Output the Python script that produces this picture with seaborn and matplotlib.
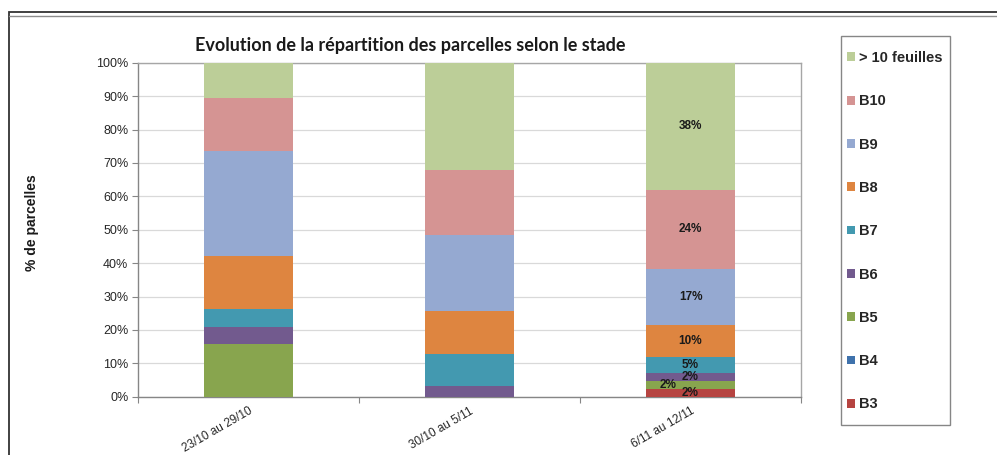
import numpy as np
import pandas as pd
import matplotlib
matplotlib.use("Agg")
import matplotlib.pyplot as plt
from matplotlib.patches import Patch, Rectangle
from matplotlib.colors import to_rgba
import seaborn as sns

periodes = ["23/10 au 29/10", "30/10 au 5/11", "6/11 au 12/11"]
stades = ["> 10 feuilles", "B10", "B9", "B8", "B7", "B6", "B5", "B4", "B3"]

# % de parcelles par stade, une valeur par periode
gt10 = [10.5, 32.2, 38.0]
b10 = [15.8, 19.4, 23.8]
b9 = [31.6, 22.6, 16.7]
b8 = [15.8, 12.9, 9.6]
b7 = [5.3, 9.7, 4.8]
b6 = [5.3, 3.2, 2.4]
b5 = [15.7, 0.0, 2.4]
b4 = [0.0, 0.0, 0.0]
b3 = [0.0, 0.0, 2.3]

couleurs = ["#BCCE98", "#D59493", "#95A9D1", "#DE8540", "#4399B0",
            "#725A8E", "#88A54E", "#3F72AC", "#B64441"]

series = [gt10, b10, b9, b8, b7, b6, b5, b4, b3]
rows = []
for stade, vals in zip(stades, series):
    for i, v in enumerate(vals):
        rows.append({"periode": i, "stade": stade, "pct": v})
df = pd.DataFrame(rows)
palette = dict(zip(stades, couleurs))

sns.set_style("white")
plt.rcParams["font.family"] = ["Liberation Sans", "DejaVu Sans"]

fig = plt.figure(figsize=(9.97, 4.55), dpi=100)
ax = fig.add_axes([138 / 997, 1 - 396.7 / 455, 663 / 997, 334 / 455])

sns.histplot(data=df, x="periode", weights="pct", hue="stade", hue_order=stades,
             palette=palette, multiple="stack", discrete=True, shrink=0.4,
             alpha=1, linewidth=0, legend=False, ax=ax, zorder=3)

ax.set_xlim(-0.5, 2.5)
ax.set_ylim(0, 100)
ax.set_yticks(np.arange(0, 101, 10))
ax.set_yticklabels([f"{t}%" for t in range(0, 101, 10)], fontsize=9, color="#262626")
ax.yaxis.grid(True, color="#D9D9D9", linewidth=0.9, zorder=0)
ax.set_axisbelow(True)
ax.tick_params(axis="y", length=4, width=0.8, color="#868686", pad=3, left=True)

ax.set_xticks(range(len(periodes)))
ax.set_xticklabels(periodes, fontsize=8.5, color="#262626", rotation=30,
                   ha="right", va="top", rotation_mode="anchor")
ax.tick_params(axis="x", which="major", length=0, pad=6)
ax.set_xticks([-0.5, 0.5, 1.5, 2.5], minor=True)
ax.tick_params(axis="x", which="minor", length=4, width=0.8, color="#868686", bottom=True)
ax.set_xlabel("")
ax.set_ylabel("")

for side in ["left", "bottom"]:
    ax.spines[side].set_color("#868686")
    ax.spines[side].set_linewidth(1.0)
for side in ["top", "right"]:
    ax.spines[side].set_visible(True)
    ax.spines[side].set_color("#A6A6A6")
    ax.spines[side].set_linewidth(1.0)

# etiquettes de donnees sur la derniere barre
b5_rgba = to_rgba(palette["B5"])
for p in ax.patches:
    h = p.get_height()
    xc = p.get_x() + p.get_width() / 2
    if h <= 0 or abs(xc - 2) > 0.01:
        continue
    yc = p.get_y() + h / 2
    dx = -16 if np.allclose(p.get_facecolor(), b5_rgba) else 0
    ax.annotate(f"{round(h)}%", (xc, yc), xytext=(dx, 0), textcoords="offset points",
                ha="center", va="center", fontsize=8.5, fontweight="bold",
                color="#1a1a1a", zorder=5)

fig.text(410 / 997, 1 - 45 / 455, "Evolution de la répartition des parcelles selon le stade",
         ha="center", va="center", fontsize=13, fontweight="bold",
         family=["Lato", "DejaVu Sans"], color="#1a1a1a")
fig.text(32 / 997, 1 - 223 / 455, "% de parcelles", rotation=90, ha="center", va="center",
         fontsize=10, fontweight="bold", color="#1a1a1a")

handles = [Patch(facecolor=palette[s], edgecolor="none") for s in stades]
leg = fig.legend(handles, stades, loc="upper left",
                 bbox_to_anchor=(847 / 997, 1 - 51 / 455), frameon=False,
                 prop={"weight": "bold", "size": 10.5},
                 handlelength=0.55, handleheight=0.55, handletextpad=0.25,
                 labelspacing=2.01, borderpad=0, borderaxespad=0)

# cadre de la legende
fig.add_artist(Rectangle((841 / 997, 1 - 425 / 455), 109 / 997, 389 / 455,
                         transform=fig.transFigure, fill=False,
                         edgecolor="#868686", linewidth=1.0))

# cadre exterieur du graphique
fig.add_artist(Rectangle((9 / 997, -0.05), 1.0, 1 - 12 / 455 + 0.05, transform=fig.transFigure,
                         fill=False, edgecolor="#333333", linewidth=1.3))
fig.add_artist(plt.Line2D([9 / 997, 1.0], [1 - 15.5 / 455] * 2, transform=fig.transFigure,
                          color="#8c8c8c", linewidth=1.0))

fig.savefig("out.png", dpi=100)
